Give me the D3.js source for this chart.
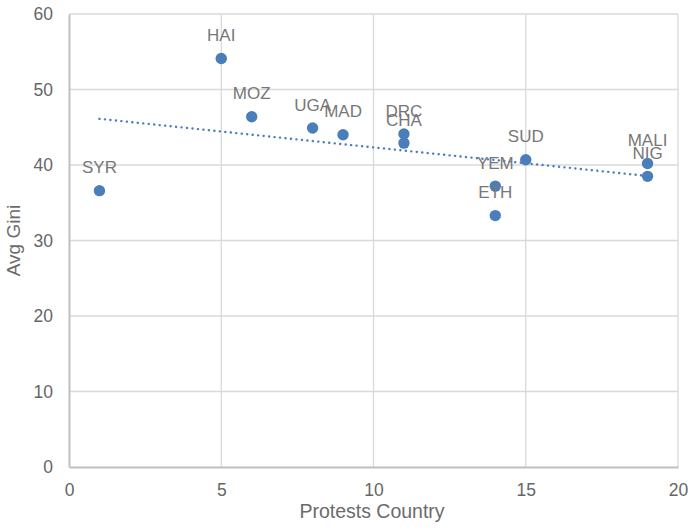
<!DOCTYPE html>
<html>
<head>
<meta charset="utf-8">
<script src="https://cdn.jsdelivr.net/npm/d3@7"></script>
<style>
  body { margin: 0; background: #fff; }
  svg text { font-family: "Liberation Sans", Arial, sans-serif; }
</style>
</head>
<body>
<div id="chart"></div>
<script>
// data
var countries = ["SYR", "HAI", "MOZ", "UGA", "MAD", "DRC", "CHA", "YEM", "ETH", "SUD", "MALI", "NIG"];
var protests = [1, 5, 6, 8, 9, 11, 11, 14, 14, 15, 19, 19];
var gini = [36.6, 54.1, 46.4, 44.9, 44.0, 44.1, 42.9, 37.2, 33.3, 40.7, 40.2, 38.5];
var xTicks = [0, 5, 10, 15, 20];
var yTicks = [0, 10, 20, 30, 40, 50, 60];

var width = 688, height = 530;
var margin = { top: 14, right: 10, bottom: 63, left: 69 };
var w = width - margin.left - margin.right,
    h = height - margin.top - margin.bottom;

var svg = d3.select("#chart").append("svg")
    .attr("width", width)
    .attr("height", height);

var g = svg.append("g")
    .attr("transform", "translate(" + margin.left + "," + margin.top + ")");

var x = d3.scaleLinear().domain([0, 20]).range([0, w]);
var y = d3.scaleLinear().domain([0, 60]).range([h, 0]);

// gridlines
g.append("g")
    .selectAll("line.gx")
    .data(xTicks.slice(1))
    .enter().append("line")
    .attr("x1", d => x(d)).attr("x2", d => x(d))
    .attr("y1", 0).attr("y2", h)
    .attr("stroke", "#d9d9d9").attr("stroke-width", 1.3);

g.append("g")
    .selectAll("line.gy")
    .data(yTicks.slice(1))
    .enter().append("line")
    .attr("x1", 0).attr("x2", w)
    .attr("y1", d => y(d)).attr("y2", d => y(d))
    .attr("stroke", "#d9d9d9").attr("stroke-width", 1.3);

// axes
var xAxis = g.append("g")
    .attr("transform", "translate(0," + h + ")")
    .call(d3.axisBottom(x).tickValues(xTicks).tickSize(0).tickPadding(17));
var yAxis = g.append("g")
    .call(d3.axisLeft(y).tickValues(yTicks).tickSize(0).tickPadding(16));

[xAxis, yAxis].forEach(function(a) {
    a.select(".domain").attr("stroke", "#bfbfbf").attr("stroke-width", 2);
    a.selectAll("text")
        .attr("fill", "#666")
        .style("font-size", "17.5px")
        .style("font-family", "Liberation Sans, Arial, sans-serif");
});

// axis titles
svg.append("text")
    .attr("x", 372)
    .attr("y", 518)
    .attr("text-anchor", "middle")
    .attr("fill", "#6b6b6b")
    .style("font-size", "19.5px")
    .text("Protests Country");

svg.append("text")
    .attr("transform", "translate(20," + (margin.top + h / 2) + ") rotate(-90)")
    .attr("text-anchor", "middle")
    .attr("fill", "#6b6b6b")
    .style("font-size", "19px")
    .text("Avg Gini");

// linear trendline (least squares)
var mx = d3.mean(protests), my = d3.mean(gini);
var sxy = d3.sum(protests, (d, i) => (d - mx) * (gini[i] - my));
var sxx = d3.sum(protests, d => (d - mx) * (d - mx));
var slope = sxy / sxx, icpt = my - slope * mx;
var xr = d3.extent(protests);

g.append("line")
    .attr("x1", x(xr[0])).attr("y1", y(icpt + slope * xr[0]))
    .attr("x2", x(xr[1])).attr("y2", y(icpt + slope * xr[1]))
    .attr("stroke", "#4a7ebb")
    .attr("stroke-width", 2.4)
    .attr("stroke-linecap", "round")
    .attr("stroke-dasharray", "0.1 5.4");

// points
var pts = countries.map((c, i) => ({ name: c, x: protests[i], y: gini[i] }));

g.selectAll("circle")
    .data(pts)
    .enter().append("circle")
    .attr("cx", d => x(d.x))
    .attr("cy", d => y(d.y))
    .attr("r", 5.7)
    .attr("fill", "#4a7ebb");

g.selectAll("text.lbl")
    .data(pts)
    .enter().append("text")
    .attr("class", "lbl")
    .attr("x", d => x(d.x))
    .attr("y", d => y(d.y) - 17.4)
    .attr("text-anchor", "middle")
    .attr("fill", "#777")
    .style("font-size", "17px")
    .text(d => d.name);
</script>
</body>
</html>
